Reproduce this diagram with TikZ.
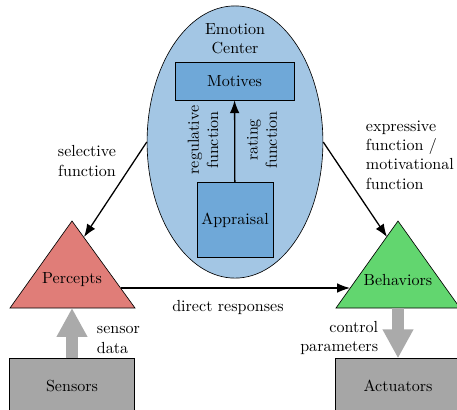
\documentclass[tikz,border=0pt]{standalone}
\usetikzlibrary{shapes.geometric,arrows.meta}
\definecolor{emofill}{HTML}{A3C6E4}
\definecolor{boxfill}{HTML}{6FA8D8}
\definecolor{percfill}{HTML}{E07D78}
\definecolor{behfill}{HTML}{62D66F}
\definecolor{hwfill}{HTML}{A6A6A6}
\definecolor{hwarrow}{HTML}{AAAAAA}
\tikzset{
  emobox/.style={draw,fill=boxfill,inner sep=0pt},
  hwbox/.style={draw,fill=hwfill,minimum width=2.74cm,minimum height=1.2cm,inner sep=0pt},
  conn/.style={-{Latex[length=8pt,width=6pt]},line width=0.8pt},
  bigarrow/.style={-{Triangle[length=18pt,width=18pt]},line width=7pt,hwarrow},
  lbl/.style={align=center,inner sep=1pt}
}
\begin{document}
\begin{tikzpicture}[x=0.0219cm,y=-0.0219cm]
      \useasboundingbox (0,0) rectangle (457,409);
      \node[draw,ellipse,fill=emofill,minimum width=3.85cm,minimum height=5.96cm] (center) at (235,142) {};
      \node[lbl] (centerlbl) at (235,39) {Emotion\\Center};
      \node[emobox,minimum width=2.6cm,minimum height=0.83cm] (motives) at (234.5,81) {Motives};
      \node[emobox,minimum width=1.66cm,minimum height=1.64cm] (appraisal) at (235,220) {Appraisal};
      \draw[conn] (appraisal) -- (motives);
      \node[lbl,rotate=90] (regul) at (203,140) {regulative\\function};
      \node[lbl,rotate=90] (rating) at (262,140) {rating\\function};
      % triangles
      \filldraw[fill=percfill] (10,308)--(72,221)--(135,308)--cycle;
      \filldraw[fill=behfill] (336,308)--(398,221)--(460,308)--cycle;
      \node (percepts) at (72,280) {Percepts};
      \node (behaviors) at (398,280) {Behaviors};
      \coordinate (psel) at (84,237);
      \coordinate (pdir) at (121,288);
      \coordinate (pbase) at (72,308);
      \coordinate (bexp) at (387,237);
      \coordinate (bdir) at (350,288);
      \coordinate (bbase) at (398,308);
      \node[hwbox] (sensors) at (72,386) {Sensors};
      \node[hwbox] (actuators) at (398,386) {Actuators};
      \draw[conn] (center.west) -- (psel);
      \draw[conn] (center.east) -- (bexp);
      \draw[conn] (pdir) -- (bdir);
      \draw[bigarrow] (sensors.north) -- (pbase);
      \draw[bigarrow] (bbase) -- (actuators.north);
      \node[lbl] (sellbl) at (87,161) {selective\\function};
      \node[lbl,anchor=west,align=left] (explbl) at (364,155) {expressive\\function /\\motivational\\function};
      \node[lbl] (dirlbl) at (228,307) {direct responses};
      \node[lbl,anchor=west,align=left] (senslbl) at (95,340) {sensor\\data};
      \node[lbl,anchor=east,align=right] (ctrllbl) at (380,338) {control\\parameters};
    \end{tikzpicture}
\end{document}
